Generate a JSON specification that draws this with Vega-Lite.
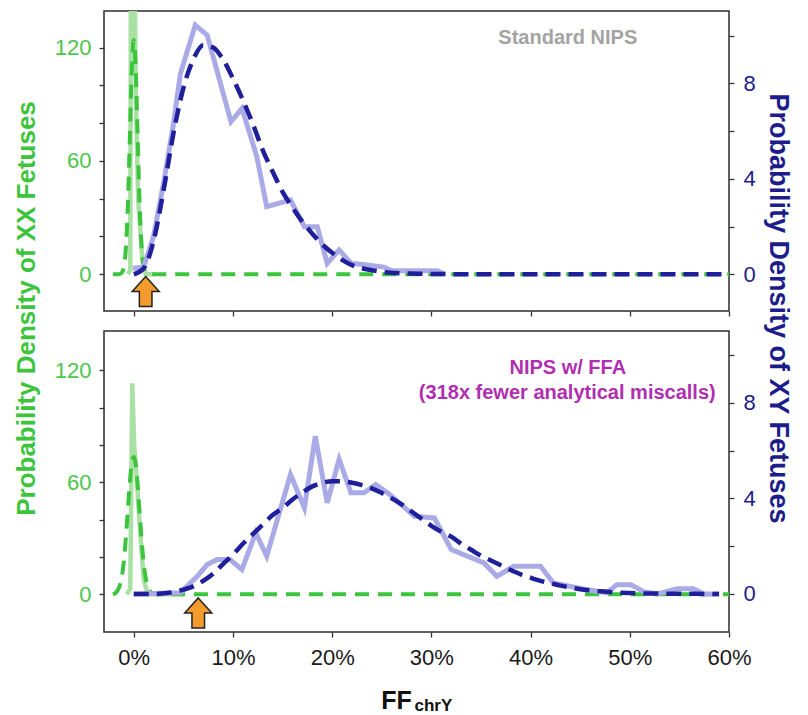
{
  "$schema": "https://vega.github.io/schema/vega-lite/v6.json",
  "padding": {"left": 12, "top": 10, "right": 5, "bottom": 0},
  "bounds": "flush",
  "spacing": 20,
  "background": "white",
  "config": {
    "font": "Liberation Sans",
    "view": {"stroke": "#2b2b2b", "strokeWidth": 1.5},
    "axis": {"grid": false, "domain": false, "tickColor": "#333333", "tickWidth": 1.3, "tickSize": 5, "labelFont": "Liberation Sans", "titleFont": "Liberation Sans"}
  },
  "datasets": {
    "top_xx_obs": [{"x":-0.6,"d":0},{"x":-0.35,"d":2},{"x":-0.28,"d":200},{"x":0.0,"d":200},{"x":0.22,"d":92},{"x":0.45,"d":39},{"x":0.87,"d":7.6},{"x":1.2,"d":0},{"x":2,"d":0}],
    "top_xx_fit": [{"x":-2.1,"d":0},{"x":-1.5,"d":0},{"x":-1.2,"d":0.8},{"x":-1.0,"d":3.9},{"x":-0.8,"d":13.4},{"x":-0.6,"d":35.6},{"x":-0.4,"d":71},{"x":-0.2,"d":108},{"x":0,"d":124},{"x":0.2,"d":108},{"x":0.4,"d":71},{"x":0.6,"d":35.6},{"x":0.8,"d":13.4},{"x":1.0,"d":3.9},{"x":1.2,"d":0.8},{"x":1.5,"d":0},{"x":60,"d":0}],
    "top_xy_obs": [{"x":-0.1,"d":0.25},{"x":1,"d":0.3},{"x":2,"d":1.6},{"x":3,"d":3.8},{"x":4,"d":6.3},{"x":4.7,"d":8.4},{"x":6.2,"d":10.44},{"x":7.4,"d":10.02},{"x":9.8,"d":6.39},{"x":10.9,"d":6.95},{"x":12.4,"d":4.93},{"x":13.4,"d":2.83},{"x":15.8,"d":3.11},{"x":17.2,"d":1.99},{"x":18.5,"d":1.99},{"x":19.5,"d":0.46},{"x":20.7,"d":1.02},{"x":21.9,"d":0.46},{"x":23.5,"d":0.39},{"x":25.2,"d":0.3},{"x":26,"d":0.15},{"x":30.6,"d":0.15},{"x":31.3,"d":0}],
    "top_xy_fit": [{"x":0,"d":0},{"x":1,"d":0.25},{"x":2,"d":1.4},{"x":3,"d":3.5},{"x":4,"d":5.9},{"x":5,"d":7.8},{"x":6,"d":9.0},{"x":7,"d":9.6},{"x":8,"d":9.5},{"x":9,"d":9.0},{"x":10,"d":8.2},{"x":11,"d":7.3},{"x":12,"d":6.3},{"x":13,"d":5.2},{"x":14,"d":4.3},{"x":15,"d":3.45},{"x":16,"d":2.8},{"x":17,"d":2.2},{"x":18,"d":1.7},{"x":19,"d":1.25},{"x":20,"d":0.9},{"x":21,"d":0.6},{"x":22,"d":0.38},{"x":23,"d":0.25},{"x":24,"d":0.17},{"x":25,"d":0.1},{"x":26,"d":0.06},{"x":28,"d":0.03},{"x":30,"d":0.01},{"x":35,"d":0},{"x":60,"d":0}],
    "bot_xx_obs": [{"x":-0.7,"d":0},{"x":-0.35,"d":3},{"x":-0.15,"d":113},{"x":0.05,"d":79},{"x":0.2,"d":70},{"x":0.5,"d":45},{"x":0.8,"d":22},{"x":1.0,"d":8},{"x":1.4,"d":0},{"x":5,"d":0}],
    "bot_xx_fit": [{"x":-2.1,"d":0},{"x":-1.7,"d":1.5},{"x":-1.4,"d":4.8},{"x":-1.2,"d":9.5},{"x":-1.0,"d":17.5},{"x":-0.8,"d":30},{"x":-0.6,"d":44.7},{"x":-0.4,"d":59.5},{"x":-0.2,"d":70.5},{"x":0,"d":73.5},{"x":0.2,"d":69.5},{"x":0.4,"d":58},{"x":0.6,"d":43},{"x":0.8,"d":28.5},{"x":1.0,"d":16.5},{"x":1.2,"d":8.8},{"x":1.4,"d":4.2},{"x":1.7,"d":1.2},{"x":2.0,"d":0.25},{"x":2.5,"d":0},{"x":60,"d":0}],
    "bot_xy_obs": [{"x":0,"d":0},{"x":4.7,"d":0.05},{"x":6.4,"d":0.74},{"x":7.4,"d":1.23},{"x":8.4,"d":1.44},{"x":9.7,"d":1.44},{"x":10.9,"d":1.02},{"x":12.3,"d":2.56},{"x":13.4,"d":1.58},{"x":15.8,"d":5.0},{"x":17.2,"d":3.6},{"x":18.3,"d":6.6},{"x":19.5,"d":3.81},{"x":20.7,"d":5.63},{"x":21.9,"d":4.23},{"x":23.2,"d":4.23},{"x":24.4,"d":4.58},{"x":25.8,"d":4.16},{"x":28.3,"d":3.25},{"x":30.3,"d":3.18},{"x":32,"d":1.86},{"x":35.3,"d":1.3},{"x":36.6,"d":0.74},{"x":38.3,"d":1.16},{"x":41,"d":1.16},{"x":42.3,"d":0.46},{"x":45.4,"d":0.2},{"x":47.7,"d":0.05},{"x":48.7,"d":0.39},{"x":50.1,"d":0.39},{"x":51.4,"d":0.1},{"x":52.8,"d":0},{"x":54.8,"d":0.22},{"x":56.4,"d":0.22},{"x":57.5,"d":0},{"x":59,"d":0}],
    "bot_xy_fit": [{"x":0,"d":0},{"x":2,"d":0},{"x":3,"d":0.03},{"x":4,"d":0.08},{"x":5,"d":0.18},{"x":6,"d":0.32},{"x":7,"d":0.55},{"x":8,"d":0.85},{"x":9,"d":1.25},{"x":10,"d":1.65},{"x":11,"d":2.1},{"x":12,"d":2.5},{"x":13,"d":2.9},{"x":14,"d":3.3},{"x":15,"d":3.6},{"x":16,"d":3.95},{"x":17,"d":4.25},{"x":18,"d":4.5},{"x":19,"d":4.65},{"x":20,"d":4.72},{"x":21,"d":4.72},{"x":22,"d":4.65},{"x":23,"d":4.55},{"x":24,"d":4.42},{"x":25,"d":4.22},{"x":26,"d":4.0},{"x":27,"d":3.75},{"x":28,"d":3.45},{"x":29,"d":3.15},{"x":30,"d":2.85},{"x":31,"d":2.6},{"x":32,"d":2.4},{"x":33,"d":2.1},{"x":34,"d":1.85},{"x":35,"d":1.6},{"x":36,"d":1.4},{"x":37,"d":1.2},{"x":38,"d":1.0},{"x":39,"d":0.82},{"x":40,"d":0.68},{"x":41,"d":0.55},{"x":42,"d":0.45},{"x":43,"d":0.35},{"x":44,"d":0.27},{"x":45,"d":0.2},{"x":46,"d":0.15},{"x":47,"d":0.11},{"x":48,"d":0.08},{"x":50,"d":0.04},{"x":52,"d":0.02},{"x":55,"d":0.01},{"x":59,"d":0}],
    "top_arrow": [{"x":1.2}],
    "bot_arrow": [{"x":6.5}],
    "top_note": [{"label":"Standard NIPS"}],
    "bot_note1": [{"label":"NIPS w/ FFA"}],
    "bot_note2": [{"label":"(318x fewer analytical miscalls)"}]
  },
  "vconcat": [
    {
      "width": 625,
      "height": 300,
      "layer": [
        {
          "layer": [
            {
              "data": {"name": "top_xx_obs"},
              "mark": {"type": "line", "color": "#a9e0a3", "strokeWidth": 4.5, "clip": true},
              "encoding": {
                "x": {"field": "x", "type": "quantitative", "scale": {"domain": [-3, 60], "nice": false, "zero": false},
                      "axis": {"values": [0,10,20,30,40,50,60], "labels": false, "title": null, "ticks": true}},
                "y": {"field": "d", "type": "quantitative", "scale": {"domain": [-19.5, 139.4], "nice": false, "zero": false},
                      "axis": {"orient": "left", "values": [0,20,40,60,80,100,120], "labelExpr": "datum.value % 60 === 0 ? datum.label : ''",
                               "labelColor": "#4cc64c", "labelFontSize": 22, "labelPadding": 8,
                               "title": "Probability Density of XX Fetuses", "titleAngle": -90, "titleX": -70, "titleY": 297,
                               "titleAlign": "center", "titleBaseline": "alphabetic", "titleFontSize": 26, "titleFontWeight": "bold", "titleColor": "#3dc43d"}}
              }
            },
            {
              "data": {"name": "top_xx_fit"},
              "mark": {"type": "line", "color": "#3cc43c", "strokeWidth": 4, "strokeDash": [14, 9], "interpolate": "monotone", "clip": true},
              "encoding": {"x": {"field": "x", "type": "quantitative"}, "y": {"field": "d", "type": "quantitative"}}
            },
            {
              "data": {"name": "top_arrow"},
              "mark": {"type": "point", "shape": "M0,-1L0.9,0L0.42,0L0.42,1L-0.42,1L-0.42,0L-0.9,0Z", "size": 900, "filled": true, "fill": "#f49b2e", "stroke": "#222222", "strokeWidth": 1.5, "opacity": 1},
              "encoding": {"x": {"field": "x", "type": "quantitative"}, "y": {"datum": -9.2}}
            },
            {
              "data": {"name": "top_note"},
              "mark": {"type": "text", "font": "Liberation Sans", "fontSize": 20, "fontWeight": "bold", "color": "#a3a3a3", "align": "center", "baseline": "middle"},
              "encoding": {"x": {"datum": 43.75}, "y": {"datum": 125.2}, "text": {"field": "label"}}
            }
          ]
        },
        {
          "layer": [
            {
              "data": {"name": "top_xy_obs"},
              "mark": {"type": "line", "color": "#aaaae6", "strokeWidth": 5, "clip": true},
              "encoding": {
                "x": {"field": "x", "type": "quantitative"},
                "y": {"field": "d", "type": "quantitative", "scale": {"domain": [-1.54, 11.03], "nice": false, "zero": false},
                      "axis": {"orient": "right", "values": [0,2,4,6,8,10], "labelExpr": "datum.value % 4 === 0 ? datum.label : ''",
                               "labelColor": "#1c1c8a", "labelFontSize": 22, "labelPadding": 9,
                               "title": "Probability Density of XY Fetuses", "titleAngle": 90, "titleX": 40, "titleY": 297,
                               "titleAlign": "center", "titleBaseline": "alphabetic", "titleFontSize": 27, "titleFontWeight": "bold", "titleColor": "#1c1c8a"}}
              }
            },
            {
              "data": {"name": "top_xy_fit"},
              "mark": {"type": "line", "color": "#1f1f9c", "strokeWidth": 4.5, "strokeDash": [15, 8], "interpolate": "monotone", "clip": true},
              "encoding": {"x": {"field": "x", "type": "quantitative"}, "y": {"field": "d", "type": "quantitative"}}
            }
          ]
        }
      ],
      "resolve": {"scale": {"y": "independent"}, "axis": {"y": "independent"}}
    },
    {
      "width": 625,
      "height": 301,
      "layer": [
        {
          "layer": [
            {
              "data": {"name": "bot_xx_obs"},
              "mark": {"type": "line", "color": "#a9e0a3", "strokeWidth": 4.5, "clip": true},
              "encoding": {
                "x": {"field": "x", "type": "quantitative", "scale": {"domain": [-3, 60], "nice": false, "zero": false},
                      "axis": {"values": [0,10,20,30,40,50,60], "labelExpr": "datum.value + '%'", "labelFontSize": 22, "labelColor": "#1a1a1a",
                               "labelPadding": 10, "labelFlush": false,
                               "title": "FF", "titleFontSize": 25, "titleFontWeight": "bold", "titleColor": "#111111",
                               "titleX": 292, "titleY": 76, "titleAlign": "center", "titleBaseline": "alphabetic"}},
                "y": {"field": "d", "type": "quantitative", "scale": {"domain": [-20.2, 141], "nice": false, "zero": false},
                      "axis": {"orient": "left", "values": [0,20,40,60,80,100,120], "labelExpr": "datum.value % 60 === 0 ? datum.label : ''",
                               "labelColor": "#4cc64c", "labelFontSize": 22, "labelPadding": 8, "title": null}}
              }
            },
            {
              "data": {"name": "bot_xx_fit"},
              "mark": {"type": "line", "color": "#3cc43c", "strokeWidth": 4, "strokeDash": [14, 9], "interpolate": "monotone", "clip": true},
              "encoding": {"x": {"field": "x", "type": "quantitative"}, "y": {"field": "d", "type": "quantitative"}}
            },
            {
              "data": {"name": "bot_arrow"},
              "mark": {"type": "point", "shape": "M0,-1L0.9,0L0.42,0L0.42,1L-0.42,1L-0.42,0L-0.9,0Z", "size": 900, "filled": true, "fill": "#f49b2e", "stroke": "#222222", "strokeWidth": 1.5, "opacity": 1},
              "encoding": {"x": {"field": "x", "type": "quantitative"}, "y": {"datum": -10}}
            },
            {
              "data": {"name": "bot_note1"},
              "mark": {"type": "text", "font": "Liberation Sans", "fontSize": 20, "fontWeight": "bold", "color": "#b02fb0", "align": "center", "baseline": "middle"},
              "encoding": {"x": {"datum": 43.75}, "y": {"datum": 121.2}, "text": {"field": "label"}}
            },
            {
              "data": {"name": "bot_note2"},
              "mark": {"type": "text", "font": "Liberation Sans", "fontSize": 20, "fontWeight": "bold", "color": "#b02fb0", "align": "center", "baseline": "middle"},
              "encoding": {"x": {"datum": 43.7}, "y": {"datum": 107.9}, "text": {"field": "label"}}
            },
            {
              "data": {"values": [{"sub": "chrY"}]},
              "mark": {"type": "text", "font": "Liberation Sans", "fontSize": 17, "fontWeight": "bold", "color": "#111111", "align": "left", "baseline": "alphabetic", "dy": 79},
              "encoding": {"x": {"datum": 28.3}, "y": {"datum": -20.2}, "text": {"field": "sub"}}
            }
          ]
        },
        {
          "layer": [
            {
              "data": {"name": "bot_xy_obs"},
              "mark": {"type": "line", "color": "#aaaae6", "strokeWidth": 5, "clip": true},
              "encoding": {
                "x": {"field": "x", "type": "quantitative"},
                "y": {"field": "d", "type": "quantitative", "scale": {"domain": [-1.59, 11.0], "nice": false, "zero": false},
                      "axis": {"orient": "right", "values": [0,2,4,6,8,10], "labelExpr": "datum.value % 4 === 0 ? datum.label : ''",
                               "labelColor": "#1c1c8a", "labelFontSize": 22, "labelPadding": 9, "title": null}}
              }
            },
            {
              "data": {"name": "bot_xy_fit"},
              "mark": {"type": "line", "color": "#1f1f9c", "strokeWidth": 4.5, "strokeDash": [15, 8], "interpolate": "monotone", "clip": true},
              "encoding": {"x": {"field": "x", "type": "quantitative"}, "y": {"field": "d", "type": "quantitative"}}
            }
          ]
        }
      ],
      "resolve": {"scale": {"y": "independent"}, "axis": {"y": "independent"}}
    }
  ],
  "resolve": {"scale": {"x": "independent", "y": "independent"}}
}
